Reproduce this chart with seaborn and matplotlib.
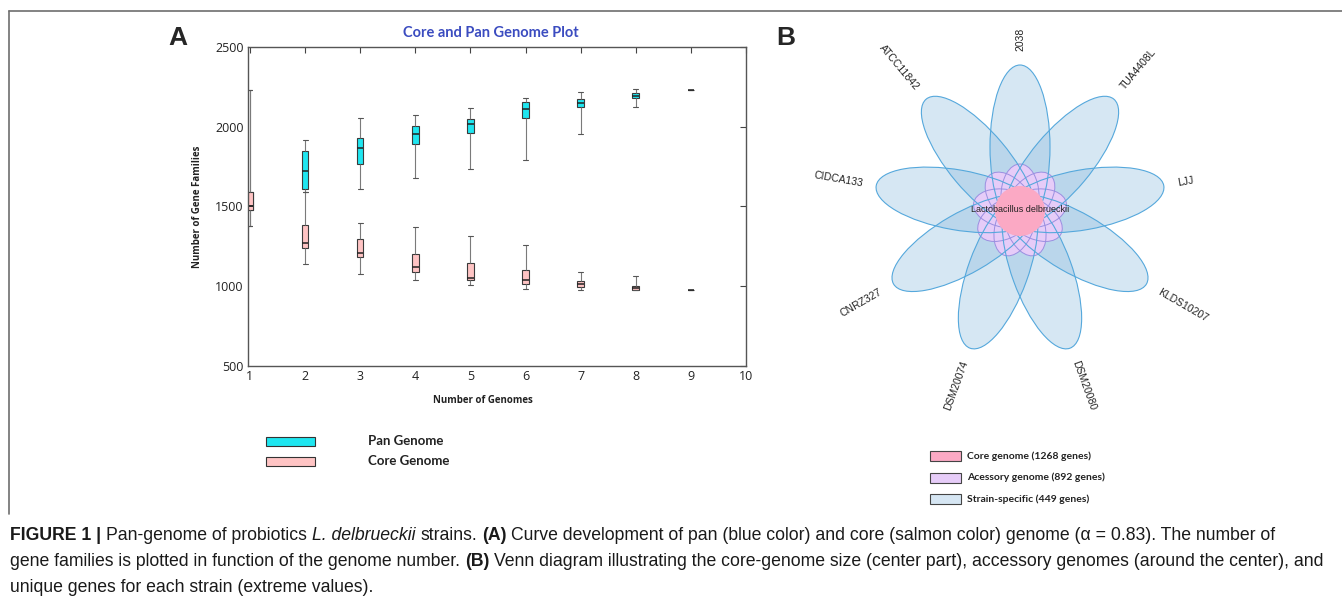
import matplotlib
matplotlib.use("Agg")
import matplotlib.pyplot as plt
import numpy as np
import pandas as pd
import seaborn as sns
from matplotlib.patches import Ellipse, Circle, Rectangle
from matplotlib.lines import Line2D

# panel A: five-number summaries
genomes = [1, 2, 3, 4, 5, 6, 7, 8, 9]
pan_whislo = [1376, 1590, 1610, 1677, 1737, 1792, 1954, 2121, 2231]
pan_q1 = [1479, 1610, 1767, 1892, 1960, 2052, 2121, 2179, 2231]
pan_med = [1500, 1721, 1867, 1954, 2017, 2110, 2152, 2194, 2231]
pan_q3 = [1590, 1850, 1927, 2006, 2050, 2156, 2177, 2210, 2231]
pan_whishi = [2231, 1917, 2052, 2071, 2115, 2183, 2221, 2235, 2231]

core_whislo = [1376, 1138, 1074, 1041, 1006, 984, 975, 975, 977]
core_q1 = [1479, 1239, 1183, 1091, 1041, 1016, 998, 979, 977]
core_med = [1500, 1270, 1206, 1121, 1053, 1041, 1012, 992, 977]
core_q3 = [1590, 1383, 1298, 1202, 1146, 1099, 1031, 1004, 977]
core_whishi = [2231, 1590, 1399, 1374, 1313, 1257, 1091, 1062, 977]

kinds = ["Pan Genome", "Core Genome"]
kind_colors = ["#1fe6f0", "#ffc4c4"]

# panel B: flower venn
strains = ["2038", "ATCC11842", "CIDCA133", "CNRZ327", "DSM20074",
           "DSM20080", "KLDS10207", "LJJ", "TUA4408L"]
venn_labels = ["Core genome (1268 genes)", "Acessory genome (892 genes)",
               "Strain-specific (449 genes)"]
venn_colors = ["#fba9c4", "#e6ccf8", "#d6e6f3"]
center_label = "Lactobacillus delbrueckii"

W, H = 1342, 616
sns.set_style("white")
plt.rcParams["font.family"] = ["Open Sans", "DejaVu Sans"]

fig = plt.figure(figsize=(W / 100, H / 100), dpi=100)


def fx(x):
    return x / W


def fy(y):
    return 1 - y / H


# ---- panel A
rows = []
for kind, lo, q1, med, q3, hi in [
    (kinds[0], pan_whislo, pan_q1, pan_med, pan_q3, pan_whishi),
    (kinds[1], core_whislo, core_q1, core_med, core_q3, core_whishi),
]:
    for i, g in enumerate(genomes):
        for v in (lo[i], q1[i], med[i], q3[i], hi[i]):
            rows.append({"genomes": g, "kind": kind, "genes": v})
df = pd.DataFrame(rows)

ax = fig.add_axes([fx(248), fy(366), (746 - 248) / W, (366 - 47) / H])
sns.boxplot(data=df, x="genomes", y="genes", hue="kind", hue_order=kinds,
            palette=dict(zip(kinds, kind_colors)), native_scale=True,
            dodge=False, width=0.12, whis=(0, 100), saturation=1,
            linecolor="#3a3a3a", linewidth=0.8, legend=False, ax=ax,
            capwidths=0.09,
            whiskerprops={"color": "#7a7a7a"}, capprops={"color": "#555555"},
            medianprops={"color": "#222222", "linewidth": 1.1})

ax.set_xlim(0.965, 10)
ax.set_ylim(500, 2500)
ax.set_xticks(range(1, 11))
ax.set_yticks([500, 1000, 1500, 2000, 2500])
ax.tick_params(direction="in", top=True, right=True, length=4, width=0.8,
               colors="#444444", labelcolor="#222222", labelsize=9, pad=3)
for s in ax.spines.values():
    s.set_color("#555555")
    s.set_linewidth(1.0)
ax.set_xlabel("Number of Genomes", fontsize=7, fontweight="bold", color="#222222")
ax.set_ylabel("Number of Gene Families", fontsize=7, fontweight="bold", color="#222222")
ax.xaxis.set_label_coords((483 - 248) / 498, (366 - 395) / 319)
ax.yaxis.set_label_coords((203 - 248) / 498, 0.5)
ax.text((491 - 248) / 498, (366 - 33) / 319, "Core and Pan Genome Plot",
        transform=ax.transAxes, ha="center", va="center", fontsize=10.5,
        fontweight="bold", color="#3b4cc0", family=["Lato", "DejaVu Sans"])

# legend for panel A
for i, (lab, col) in enumerate(zip(kinds, kind_colors)):
    yc = 441 + 20 * i
    fig.add_artist(Rectangle((fx(266), fy(yc + 4.5)), 49 / W, 9 / H,
                             transform=fig.transFigure, facecolor=col,
                             edgecolor="#333333", linewidth=0.8))
    fig.text(fx(368), fy(yc), lab, ha="left", va="center", fontsize=9.5,
             fontweight="bold", color="#222222", family=["Lato", "DejaVu Sans"])

# ---- panel B
axb = fig.add_axes([fx(800), fy(411), 440 / W, 400 / H])
axb.set_xlim(-220, 220)
axb.set_ylim(-200, 200)
axb.axis("off")

angles = [90 + 40 * k for k in range(len(strains))]
outer_a, outer_b, outer_d = 82, 30, 64
inner_a, inner_b, inner_d = 32, 19, 15

for ang in angles:
    t = np.deg2rad(ang)
    axb.add_patch(Ellipse((outer_d * np.cos(t), outer_d * np.sin(t)), 2 * outer_a,
                          2 * outer_b, angle=ang, facecolor="#7ab0da", alpha=0.3,
                          edgecolor="none", zorder=1))
for ang in angles:
    t = np.deg2rad(ang)
    axb.add_patch(Ellipse((inner_d * np.cos(t), inner_d * np.sin(t)), 2 * inner_a,
                          2 * inner_b, angle=ang, facecolor=venn_colors[1],
                          edgecolor="none", zorder=2))
for ang in angles:
    t = np.deg2rad(ang)
    axb.add_patch(Ellipse((inner_d * np.cos(t), inner_d * np.sin(t)), 2 * inner_a,
                          2 * inner_b, angle=ang, facecolor="none",
                          edgecolor="#9a8fe0", linewidth=0.7, zorder=3))
    axb.add_patch(Ellipse((outer_d * np.cos(t), outer_d * np.sin(t)), 2 * outer_a,
                          2 * outer_b, angle=ang, facecolor="none",
                          edgecolor="#55a8dc", linewidth=0.8, zorder=4))
axb.add_patch(Circle((0, 0), 25, facecolor=venn_colors[0], edgecolor="none", zorder=5))
axb.text(0, 2, center_label, ha="center", va="center", fontsize=6.5,
         color="#222222", zorder=6, family=["Liberation Sans", "DejaVu Sans"])

for name, ang in zip(strains, angles):
    t = np.deg2rad(ang)
    r = 160
    x, y = r * np.cos(t), r * np.sin(t)
    a = ang % 360
    if 90 < a < 270:
        rot, ha = a - 180, "right"
    else:
        rot, ha = a, "left"
    axb.text(x, y, name, rotation=rot, rotation_mode="anchor", ha=ha, va="center",
             fontsize=7.5, color="#222222", family=["Liberation Sans", "DejaVu Sans"])

# legend for panel B
for i, (lab, col) in enumerate(zip(venn_labels, venn_colors)):
    yc = 456 + 21.5 * i
    fig.add_artist(Rectangle((fx(930), fy(yc + 5)), 31 / W, 10 / H,
                             transform=fig.transFigure, facecolor=col,
                             edgecolor="#444444", linewidth=0.8))
    fig.text(fx(967), fy(yc), lab, ha="left", va="center", fontsize=7.5,
             fontweight="bold", color="#222222", family=["Lato", "DejaVu Sans"])

# panel letters
fig.text(fx(178), fy(38), "A", fontsize=19, fontweight="bold", ha="center",
         va="center", family=["Liberation Sans", "DejaVu Sans"])
fig.text(fx(786), fy(38), "B", fontsize=19, fontweight="bold", ha="center",
         va="center", family=["Liberation Sans", "DejaVu Sans"])

# frame
fig.add_artist(Line2D([fx(9), fx(W)], [fy(10.5), fy(10.5)], color="#6e6e6e",
                      linewidth=1.2, transform=fig.transFigure))
fig.add_artist(Line2D([fx(9), fx(9)], [fy(10.5), fy(514)], color="#6e6e6e",
                      linewidth=1.2, transform=fig.transFigure))

# caption with mixed styles
renderer = fig.canvas.get_renderer()
cap_family = ["Liberation Sans Narrow", "Liberation Sans", "DejaVu Sans"]
cap_size = 12.7
probe = fig.text(0, 0, "a a", fontsize=cap_size, family=cap_family)
probe2 = fig.text(0, 0, "aa", fontsize=cap_size, family=cap_family)
space_w = probe.get_window_extent(renderer).width - probe2.get_window_extent(renderer).width
probe.remove()
probe2.remove()

caption = [
    [("FIGURE 1 |", "bold", "normal"), (" Pan-genome of probiotics ", "normal", "normal"),
     ("L. delbrueckii", "normal", "italic"), (" strains. ", "normal", "normal"),
     ("(A)", "bold", "normal"),
     (" Curve development of pan (blue color) and core (salmon color) genome (α = 0.83). The number of",
      "normal", "normal")],
    [("gene families is plotted in function of the genome number. ", "normal", "normal"),
     ("(B)", "bold", "normal"),
     (" Venn diagram illustrating the core-genome size (center part), accessory genomes (around the center), and",
      "normal", "normal")],
    [("unique genes for each strain (extreme values).", "normal", "normal")],
]
for li, runs in enumerate(caption):
    xp = 10.0
    ypix = 535 + 26 * li
    for txt, weight, style in runs:
        lead = len(txt) - len(txt.lstrip(" "))
        trail = len(txt) - len(txt.rstrip(" "))
        xp += lead * space_w
        core = txt.strip(" ")
        t = fig.text(fx(xp), fy(ypix), core, fontsize=cap_size, fontweight=weight,
                     fontstyle=style, family=cap_family, ha="left", va="center",
                     color="#1a1a1a")
        xp += t.get_window_extent(renderer).width + trail * space_w

fig.savefig("out.png", dpi=100)
